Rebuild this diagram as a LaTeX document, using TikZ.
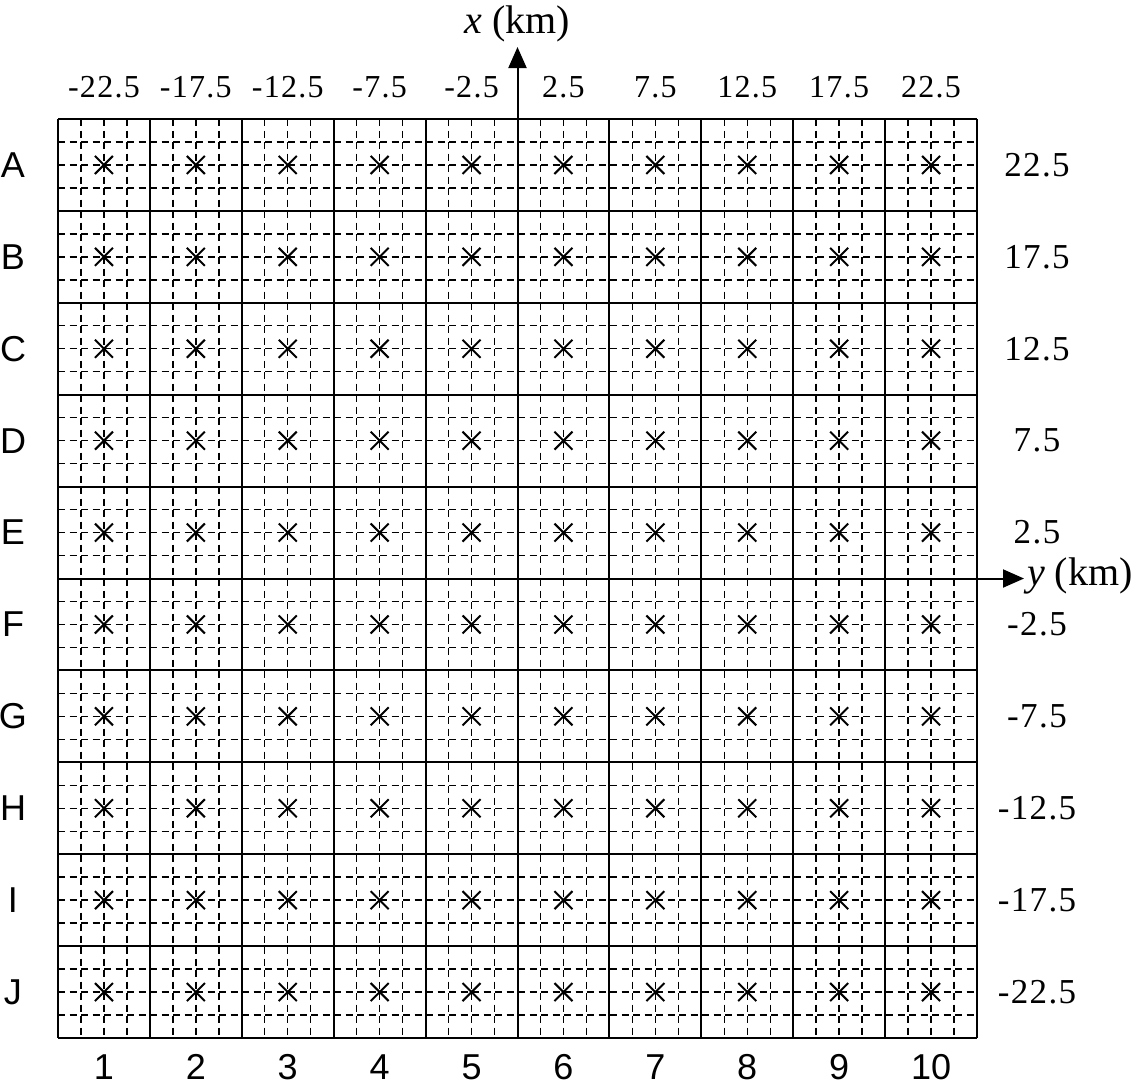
\documentclass[tikz,border=0pt]{standalone}
\usepackage{fontspec}
\setmainfont{Liberation Serif}
\newfontfamily\sansf{Liberation Sans}
\newfontfamily\numf[LetterSpace=4]{Liberation Serif}
\usetikzlibrary{arrows.meta}
\begin{document}
\begin{tikzpicture}[x=1pt,y=-1pt,
  gridline/.style={line width=2pt},
  subline/.style={line width=1.4pt, dash pattern=on 7pt off 4.5pt},
  starmark/.style={line width=2pt},
  axisarrow/.style={line width=2pt,-{Triangle[length=21pt,width=18pt]}},
  toplab/.style={font=\numf\fontsize{32}{36}\selectfont, inner sep=0pt},
  rightlab/.style={font=\numf\fontsize{35}{38}\selectfont, inner sep=0pt},
  sanslab/.style={font=\sansf\fontsize{36}{40}\selectfont, inner sep=0pt},
  axlab/.style={font=\fontsize{40}{44}\selectfont, inner sep=0pt}]
\useasboundingbox (0,0) rectangle (1138,1088);
\def\L{58}
\def\T{119}
\def\C{91.9}
% dashed sub-grid
\foreach \i in {0,...,9} {
  \foreach \k in {1,2,3} {
    \draw[subline] ({\L+\i*\C+\k*\C/4},\T) -- ++(0,919);
    \draw[subline] (\L,{\T+\i*\C+\k*\C/4}) -- ++(919,0);
  }
}
% solid grid
\foreach \i in {0,...,10} {
  \draw[gridline] ({\L+\i*\C},\T) -- ++(0,919);
  \draw[gridline] (\L,{\T+\i*\C}) -- ++(919,0);
}
% stations
\foreach \i in {0,...,9} {
  \foreach \j in {0,...,9} {
    \draw[starmark] ({\L+(\i+0.5)*\C-9},{\T+(\j+0.5)*\C-9}) -- ++(18,18)
                    ({\L+(\i+0.5)*\C-9},{\T+(\j+0.5)*\C+9}) -- ++(18,-18);
  }
}
% axes
\coordinate (xo) at (517.5,119);
\coordinate (xt) at (517.5,47);
\coordinate (yo) at (977,578.5);
\coordinate (yt) at (1024,578.5);
\draw[axisarrow] (xo) -- (xt);
\draw[axisarrow] (yo) -- (yt);
\node[axlab, anchor=base] (xlab) at (517,33) {\textit{x} (km)};
\node[axlab, anchor=base west] (ylab) at (1027,585) {\textit{y} (km)};
% top labels
\foreach \v [count=\n] in {-22.5,-17.5,-12.5,-7.5,-2.5,2.5,7.5,12.5,17.5,22.5} {
  \node[toplab] (top\n) at ({\L+(\n-0.5)*\C},87) {\v};
}
% right labels
\foreach \v [count=\n] in {22.5,17.5,12.5,7.5,2.5,-2.5,-7.5,-12.5,-17.5,-22.5} {
  \node[rightlab] (right\n) at (1037,{\T+(\n-0.5)*\C}) {\v};
}
% left letters
\foreach \l [count=\n] in {A,B,C,D,E,F,G,H,I,J} {
  \node[sanslab] (row\n) at (13,{\T+(\n-0.5)*\C}) {\l};
}
% bottom numbers
\foreach \n in {1,...,10} {
  \node[sanslab] (col\n) at ({\L+(\n-0.5)*\C},1067) {\n};
}
\end{tikzpicture}
\end{document}
